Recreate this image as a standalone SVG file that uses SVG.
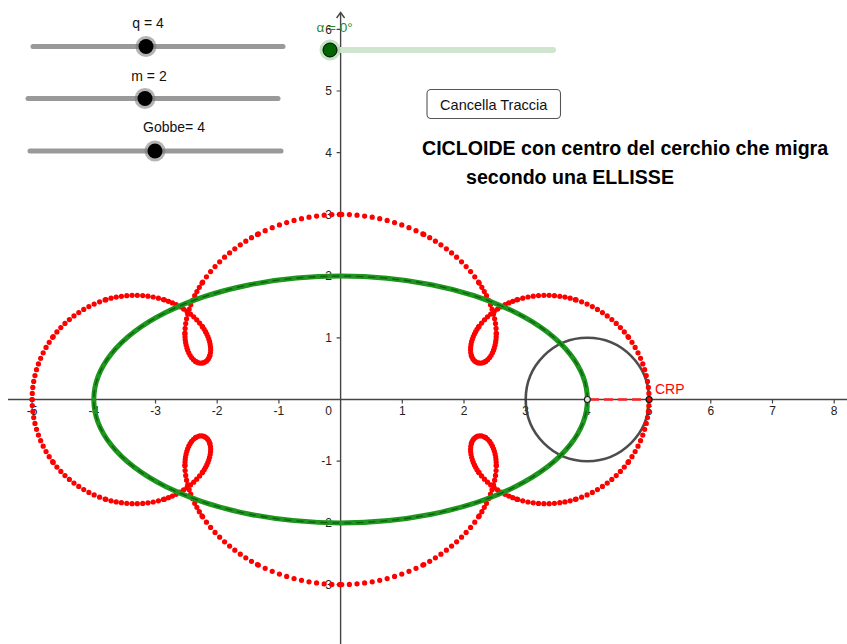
<svg xmlns="http://www.w3.org/2000/svg" xmlns:xlink="http://www.w3.org/1999/xlink" width="847" height="644" viewBox="0 0 847 644">
<style>
  .lbl { font-family: "Liberation Sans", Arial, sans-serif; font-size: 12px; fill: #222; }
  .xl { text-anchor: middle; }
  .yl { text-anchor: end; }
  .sl { font-family: "Liberation Sans", Arial, sans-serif; font-size: 14px; fill: #111; text-anchor: middle; }
  .track { stroke: #999; stroke-width: 5; stroke-linecap: round; fill: none; }
  .halo { fill: #777; fill-opacity: 0.55; }
  .knob { fill: #000; }
  .axis { stroke: #444; stroke-width: 1.4; fill: none; }
  .tick { stroke: #444; stroke-width: 1.2; }
  .rd { fill: none; stroke: #ff0000; stroke-width: 0.085; stroke-linecap: round; }
  .title { font-family: "Liberation Sans", Arial, sans-serif; font-weight: bold; font-size: 19.6px; fill: #000; }
</style>
<defs>
  <g id="rq">
    <path class="rd" stroke-dasharray="0 0.098" d="M5 0 C5 0.36652 4.87574 0.73143 4.65786 1.01998"/>
    <path class="rd" stroke-dasharray="0 0.095" d="M4.65786 1.01998 C4.43998 1.30853 4.13075 1.51843 3.80423 1.61803"/>
    <path class="rd" stroke-dasharray="0 0.086" d="M3.80423 1.61803 C3.47771 1.71763 3.13712 1.70690 2.85692 1.61509"/>
    <path class="rd" stroke-dasharray="0 0.069" d="M2.85692 1.61509 C2.57672 1.52328 2.35918 1.35265 2.23607 1.17557"/>
    <path class="rd" stroke-dasharray="0 0.044" d="M2.23607 1.17557 C2.11296 0.99849 2.08430 0.81818 2.12132 0.70711"/>
    <path class="rd" stroke-dasharray="0 0.024" d="M2.12132 0.70711 C2.15834 0.59604 2.25878 0.55648 2.35114 0.61803"/>
    <path class="rd" stroke-dasharray="0 0.045" d="M2.35114 0.61803 C2.44350 0.67958 2.52456 0.84224 2.52307 1.07490"/>
    <path class="rd" stroke-dasharray="0 0.079" d="M2.52307 1.07490 C2.52158 1.30756 2.43526 1.60795 2.23607 1.90211"/>
    <path class="rd" stroke-dasharray="0 0.108" d="M2.23607 1.90211 C2.03688 2.19627 1.72483 2.48099 1.33285 2.68249"/>
    <path class="rd" stroke-dasharray="0 0.124" d="M1.33285 2.68249 C0.94087 2.88399 0.47124 3 0 3"/>
  </g>
</defs>
<rect width="847" height="644" fill="#fff"/>

<g id="axis-labels">
  <text class="lbl xl" x="32.1" y="415">-5</text>
  <text class="lbl xl" x="93.8" y="415">-4</text>
  <text class="lbl xl" x="155.5" y="415">-3</text>
  <text class="lbl xl" x="217.2" y="415">-2</text>
  <text class="lbl xl" x="278.9" y="415">-1</text>
  <text class="lbl xl" x="328.5" y="415">0</text>
  <text class="lbl xl" x="402.3" y="415">1</text>
  <text class="lbl xl" x="464" y="415">2</text>
  <text class="lbl xl" x="525.7" y="415">3</text>
  <text class="lbl xl" x="587.4" y="415">4</text>
  <text class="lbl xl" x="649.1" y="415">5</text>
  <text class="lbl xl" x="710.8" y="415">6</text>
  <text class="lbl xl" x="772.5" y="415">7</text>
  <text class="lbl xl" x="834.2" y="415">8</text>
  <text class="lbl yl" x="332" y="33.5">6</text>
  <text class="lbl yl" x="332" y="95.2">5</text>
  <text class="lbl yl" x="332" y="156.9">4</text>
  <text class="lbl yl" x="332" y="218.6">3</text>
  <text class="lbl yl" x="332" y="280.3">2</text>
  <text class="lbl yl" x="332" y="342">1</text>
  <text class="lbl yl" x="332" y="465.4">-1</text>
  <text class="lbl yl" x="332" y="527.1">-2</text>
  <text class="lbl yl" x="332" y="588.8">-3</text>
</g>

<g id="axes">
  <line class="axis" x1="8" y1="399.5" x2="847" y2="399.5"/>
  <line class="axis" x1="340.6" y1="644" x2="340.6" y2="12.5"/>
  <path class="axis" d="M336.6 18 L340.6 12.5 L344.6 18"/>
  <path class="tick" d="M32.1 399.5v4 M93.8 399.5v4 M155.5 399.5v4 M217.2 399.5v4 M278.9 399.5v4 M402.3 399.5v4 M464 399.5v4 M525.7 399.5v4 M587.4 399.5v4 M649.1 399.5v4 M710.8 399.5v4 M772.5 399.5v4 M834.2 399.5v4"/>
  <path class="tick" d="M336.6 29.3h4 M336.6 91h4 M336.6 152.7h4 M336.6 214.4h4 M336.6 276.1h4 M336.6 337.8h4 M336.6 461.2h4 M336.6 522.9h4 M336.6 584.6h4"/>
</g>

<g id="slider-q">
  <text class="sl" x="148" y="28">q = 4</text>
  <line class="track" x1="33" y1="46.5" x2="283" y2="46.5"/>
  <circle class="halo" cx="146" cy="46.5" r="10.5"/>
  <circle class="knob" cx="146" cy="46.5" r="7.5"/>
</g>
<g id="slider-m">
  <text class="sl" x="149" y="81">m = 2</text>
  <line class="track" x1="28" y1="98.5" x2="278" y2="98.5"/>
  <circle class="halo" cx="145" cy="98.5" r="10.5"/>
  <circle class="knob" cx="145" cy="98.5" r="7.5"/>
</g>
<g id="slider-gobbe">
  <text class="sl" x="174" y="132">Gobbe= 4</text>
  <line class="track" x1="30" y1="151" x2="281" y2="151"/>
  <circle class="halo" cx="155" cy="151" r="10.5"/>
  <circle class="knob" cx="155" cy="151" r="7.5"/>
</g>
<g id="slider-alpha">
  <line x1="330" y1="50" x2="553" y2="50" stroke="#cfe5cf" stroke-width="6" stroke-linecap="round"/>
  <text x="316.5" y="31.5" font-family="Liberation Sans, Arial, sans-serif" font-size="13.5" fill="#2a8a2a">α = 0°</text>
  <circle cx="330" cy="50" r="10.5" fill="#9fcf9f" fill-opacity="0.6"/>
  <circle cx="330" cy="50" r="7" fill="#006400" stroke="#000" stroke-width="1"/>
</g>

<g id="circle">
  <circle cx="587.4" cy="399.5" r="61.7" fill="none" stroke="#3a3a3a" stroke-width="2.6" stroke-opacity="0.9"/>
</g>

<g id="cycloid" transform="translate(340.6,399.5) scale(61.7,-61.7)">
  <use xlink:href="#rq"/>
  <use xlink:href="#rq" transform="scale(-1,1)"/>
  <use xlink:href="#rq" transform="scale(1,-1)"/>
  <use xlink:href="#rq" transform="scale(-1,-1)"/>
</g>

<g id="ellipse">
  <ellipse cx="340.6" cy="399.5" rx="246.8" ry="123.4" fill="none" stroke="#1c961c" stroke-width="5"/>
  <ellipse cx="340.6" cy="399.5" rx="246.8" ry="123.4" fill="none" stroke="#0d4d0d" stroke-width="1.3" stroke-dasharray="7 5" stroke-opacity="0.8"/>
</g>

<g id="connectors">
  <line x1="590" y1="399.5" x2="647" y2="399.5" stroke="#ff2020" stroke-width="2.5" stroke-dasharray="9 5"/>
</g>

<g id="point-center">
  <circle cx="587.4" cy="399.5" r="3" fill="#dfe9df" stroke="#222" stroke-width="1.2"/>
</g>
<g id="point-crp">
  <circle cx="649.1" cy="399.5" r="3" fill="#ff0000" stroke="#111" stroke-width="1.2"/>
  <text x="655" y="394" font-family="Liberation Sans, Arial, sans-serif" font-size="14" fill="#ff0000">CRP</text>
</g>

<g id="button">
  <rect x="427" y="89.5" width="133.5" height="29" rx="4" fill="#fff" stroke="#555" stroke-width="1.1"/>
  <text x="493.7" y="109.5" font-family="Liberation Sans, Arial, sans-serif" font-size="14.5" fill="#111" text-anchor="middle">Cancella Traccia</text>
</g>

<g id="title">
  <text class="title" x="422" y="154.5">CICLOIDE con centro del cerchio che migra</text>
  <text class="title" x="466" y="184">secondo una ELLISSE</text>
</g>
</svg>
